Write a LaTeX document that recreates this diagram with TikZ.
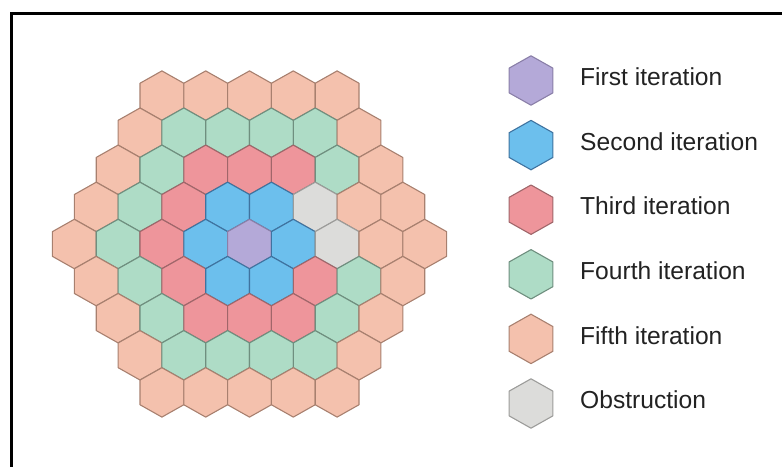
\documentclass[tikz,border=0pt]{standalone}
\usepackage{fontspec}
\setmainfont{Liberation Sans}
\usetikzlibrary{positioning}
\definecolor{firstfill}{HTML}{B4A9D8}
\definecolor{firstline}{HTML}{8A7FA8}
\definecolor{secondfill}{HTML}{6CBFED}
\definecolor{secondline}{HTML}{3F73A0}
\definecolor{thirdfill}{HTML}{EE959B}
\definecolor{thirdline}{HTML}{A0666A}
\definecolor{fourthfill}{HTML}{AEDCC6}
\definecolor{fourthline}{HTML}{6F8F7F}
\definecolor{fifthfill}{HTML}{F4C1AD}
\definecolor{fifthline}{HTML}{A8806F}
\definecolor{obstfill}{HTML}{DCDCDA}
\definecolor{obstline}{HTML}{9C9C9A}
\definecolor{labeltext}{HTML}{222222}

% one pointy-top cell around the current point
\newcommand{\hexshape}{+(0,24.7) -- +(21.9,12.35) -- +(21.9,-12.35) -- +(0,-24.7) -- +(-21.9,-12.35) -- +(-21.9,12.35) -- cycle}

\begin{document}
\begin{tikzpicture}[
  x=1pt, y=1pt,
  cell/.style={line width=1.1pt, line join=round},
  iter0/.style={cell, fill=firstfill, draw=firstline},
  iter1/.style={cell, fill=secondfill, draw=secondline},
  iter2/.style={cell, fill=thirdfill, draw=thirdline},
  iter3/.style={cell, fill=fourthfill, draw=fourthline},
  iter4/.style={cell, fill=fifthfill, draw=fifthline},
  obst/.style={cell, fill=obstfill, draw=obstline},
  legendlabel/.style={
    anchor=base west,
    font=\fontsize{24.6}{28}\selectfont,
    text=labeltext,
    inner sep=0pt
  }
]
  \useasboundingbox (0,0) rectangle (782,466);

  % --- Frame (cut off at right and bottom) ---
  \begin{scope}
    \clip (0,0) rectangle (782,466);
    \draw[line width=3pt] (11.3,-20) rectangle (820,452.2);
  \end{scope}

  % --- Grid: colour by ring, obstruction pushes two cells back ---
  \foreach \r in {-4,...,4}{
    \foreach \q in {-4,...,4}{
      \pgfmathtruncatemacro{\d}{(abs(\q)+abs(\r)+abs(\q+\r))/2}
      \ifnum\d<5
        \def\sty{iter\d}
        \ifnum\r<1 \ifnum\r>-2
          \ifnum\q=2 \def\sty{obst}\fi
          \ifnum\q=3 \def\sty{iter4}\fi
        \fi\fi
        \path[\sty] ({249.5+43.8*(\q+\r/2)},{222-37.1*\r}) \hexshape;
      \fi
    }
  }

  % --- Legend ---
  \foreach \sty/\txt [count=\i] in {iter0/First iteration, iter1/Second iteration,
      iter2/Third iteration, iter3/Fourth iteration, iter4/Fifth iteration, obst/Obstruction}{
    \path[\sty] (531,{385.5-64.6*(\i-1)}) \hexshape;
    \node[legendlabel] (lab\i) at (580,{380.3-64.6*(\i-1)}) {\txt};
  }

\end{tikzpicture}
\end{document}
